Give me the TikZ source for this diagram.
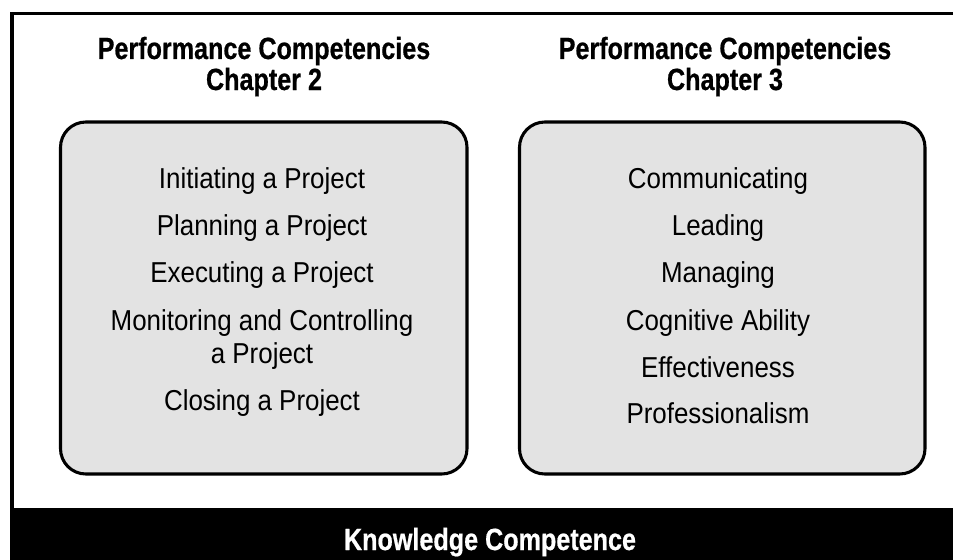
\documentclass[tikz,border=0pt]{standalone}
\usepackage{fontspec}
\newfontfamily\titlefont{Liberation Sans}[FakeStretch=0.82,FakeBold=0.6]
\newfontfamily\bodyfont{Liberation Sans}[FakeStretch=0.9]
\definecolor{boxgray}{HTML}{E3E3E3}
\begin{document}
\begin{tikzpicture}[x=0.75pt,y=-0.75pt,
  panel/.style={draw=black,line width=2.3pt,fill=boxgray,rounded corners=19pt},
  heading/.style={font=\titlefont\bfseries\fontsize{23pt}{24pt}\selectfont,anchor=base,inner sep=0pt,align=center},
  item/.style={font=\bodyfont\fontsize{21.6pt}{24pt}\selectfont,anchor=base,inner sep=0pt,align=center},
  barlabel/.style={font=\titlefont\bfseries\fontsize{23pt}{24pt}\selectfont,text=white,anchor=base,inner sep=0pt}]
\useasboundingbox (0,0) rectangle (953,560);
\clip (0,0) rectangle (953,560);
\fill[white] (0,0) rectangle (953,560);
% outer frame and bottom bar
\draw[line width=2.7pt] (12,13.5) rectangle (975,540);
\fill[black] (10,508) rectangle (975,575);
% panels
\draw[panel] (60.5,122) rectangle (467,474);
\draw[panel] (519.5,122) rectangle (925,474);
% headings
\node[heading] (h2a) at (264,59) {Performance Competencies};
\node[heading] (h2b) at (264,90) {Chapter 2};
\node[heading] (h3a) at (725,59) {Performance Competencies};
\node[heading] (h3b) at (725,90) {Chapter 3};
% left items
\node[item] (l1) at (262,188) {Initiating a Project};
\node[item] (l2) at (262,235) {Planning a Project};
\node[item] (l3) at (262,282) {Executing a Project};
\node[item] (l4) at (262,330) {Monitoring and Controlling};
\node[item] (l4b) at (262,363) {a Project};
\node[item] (l5) at (262,410) {Closing a Project};
% right items
\node[item] (r1) at (718,188) {Communicating};
\node[item] (r2) at (718,235) {Leading};
\node[item] (r3) at (718,282) {Managing};
\node[item] (r4) at (718,330) {Cognitive Ability};
\node[item] (r5) at (718,377) {Effectiveness};
\node[item] (r6) at (718,423) {Professionalism};
% bottom label
\node[barlabel] (kc) at (490,550) {Knowledge Competence};
\end{tikzpicture}
\end{document}
